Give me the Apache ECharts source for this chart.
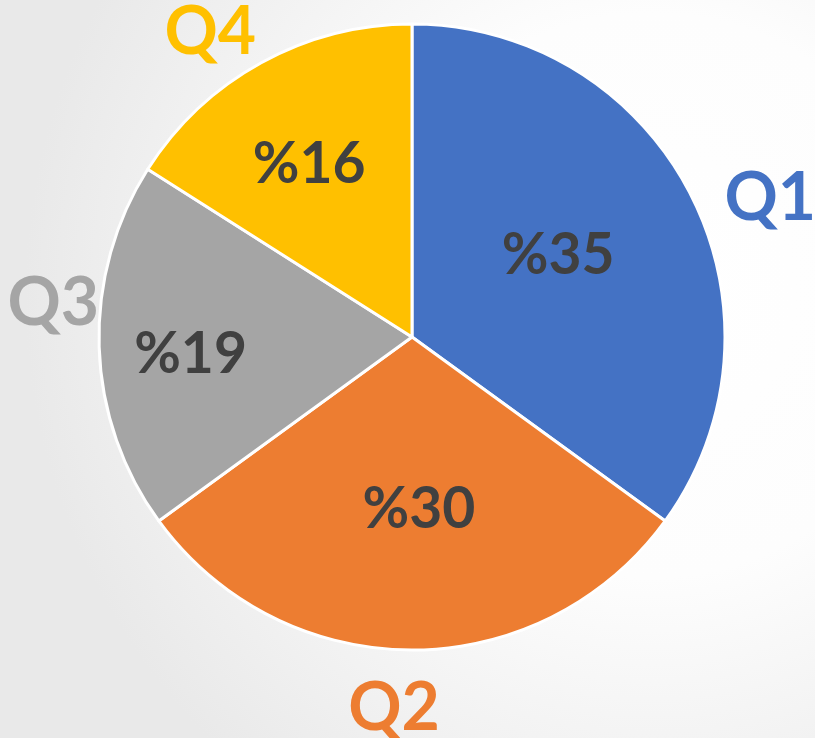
<!DOCTYPE html>
<html>
<head>
<meta charset="utf-8">
<script src="https://cdn.jsdelivr.net/npm/echarts@6/dist/echarts.min.js"></script>
<style>
html,body{margin:0;padding:0;}
#chart{width:815px;height:738px;}
</style>
</head>
<body>
<div id="chart"></div>
<script>
// Data
var categories = ['Q1', 'Q2', 'Q3', 'Q4'];
var values = [35, 30, 19, 16];

// Styling (kept separate from data)
var colors = ['#4472C4', '#ED7D31', '#A5A5A5', '#FFC000'];
var valueLabelOffsets = [[4, -9], [7, 13], [-62, 13], [-26, -33]];
var nameLabelOffsets = [[26, 31], [-18, -1], [14, -45], [-22, 23]];
var FONT = 'Lato';

var chart = echarts.init(document.getElementById('chart'));

var mainData = categories.map(function (c, i) {
  return {
    name: c, value: values[i],
    itemStyle: { color: colors[i] },
    label: { offset: valueLabelOffsets[i] }
  };
});
var nameData = categories.map(function (c, i) {
  return {
    name: c, value: values[i],
    label: { offset: nameLabelOffsets[i], color: colors[i] }
  };
});

chart.setOption({
  backgroundColor: {
    type: 'radial', x: 0.8, y: 0.4, r: 0.85,
    colorStops: [{ offset: 0, color: '#ffffff' }, { offset: 0.45, color: '#fdfdfd' }, { offset: 1, color: '#e9e9e9' }]
  },
  animation: false,
  series: [
    {
      type: 'pie',
      center: [412, 337],
      radius: [0, 313],
      startAngle: 90,
      clockwise: true,
      silent: true,
      itemStyle: { borderColor: '#ffffff', borderWidth: 3 },
      label: {
        show: true, position: 'inside',
        formatter: function (p) { return '%' + p.value; },
        color: '#404040', fontFamily: FONT, fontWeight: 'bold', fontSize: 57
      },
      labelLine: { show: false },
      data: mainData
    },
    {
      type: 'pie',
      center: [412, 337],
      radius: [313, 427],
      startAngle: 90,
      clockwise: true,
      silent: true,
      itemStyle: { color: 'rgba(0,0,0,0)' },
      label: {
        show: true, position: 'inside',
        formatter: '{b}',
        fontFamily: FONT, fontWeight: 'bold', fontSize: 66
      },
      labelLine: { show: false },
      data: nameData
    }
  ]
});
</script>
</body>
</html>
